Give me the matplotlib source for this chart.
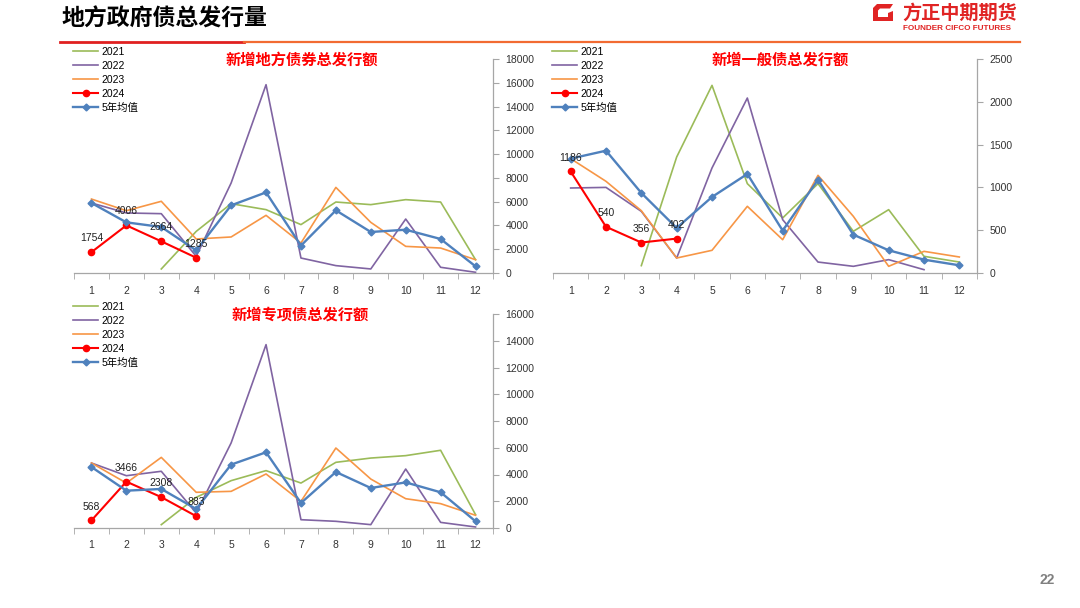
import numpy as np
import matplotlib
matplotlib.use('Agg')
import matplotlib.pyplot as plt
from matplotlib.patches import Polygon
from matplotlib.lines import Line2D

plt.rcParams['font.family'] = ['Liberation Sans', 'Noto Sans CJK SC']

nan = np.nan
months = list(range(1, 13))
series_names = ['2021', '2022', '2023', '2024', '5年均值']

# 新增地方债券总发行额
total_2021 = [nan, nan, 340, 3500, 5830, 5330, 4070, 5970, 5750, 6170, 5970, 1120]
total_2022 = [5890, 5050, 4990, 1400, 7570, 15840, 1260, 620, 340, 4540, 480, 60]
total_2023 = [6220, 5240, 6030, 2860, 3030, 4850, 2520, 7200, 4260, 2240, 2100, 1120]
total_2024 = [1754, 4006, 2664, 1285, nan, nan, nan, nan, nan, nan, nan, nan]
total_avg5 = [5890, 4260, 3870, 1900, 5690, 6780, 2300, 5270, 3450, 3640, 2860, 560]

# 新增一般债总发行额
general_2021 = [nan, nan, 86, 1355, 2192, 1044, 643, 1044, 487, 740, 195, 128]
general_2022 = [993, 1000, 720, 175, 1227, 2044, 623, 128, 78, 156, 39, nan]
general_2023 = [1336, 1071, 728, 175, 265, 779, 389, 1141, 662, 78, 253, 187]
general_2024 = [1186, 540, 356, 402, nan, nan, nan, nan, nan, nan, nan, nan]
general_avg5 = [1336, 1429, 935, 526, 888, 1157, 495, 1090, 448, 265, 156, 90]

# 新增专项债总发行额
special_2021 = [nan, nan, 250, 2290, 3540, 4290, 3360, 4910, 5230, 5410, 5810, 1000]
special_2022 = [4860, 3910, 4240, 1120, 6360, 13710, 620, 500, 250, 4410, 420, 75]
special_2023 = [4860, 3360, 5280, 2670, 2740, 4040, 1990, 5980, 3660, 2190, 1820, 950]
special_2024 = [568, 3466, 2308, 883, nan, nan, nan, nan, nan, nan, nan, nan]
special_avg5 = [4560, 2790, 2920, 1420, 4740, 5660, 1870, 4190, 2990, 3410, 2670, 500]

W, H = 1080, 608
axis_grey = '#a6a6a6'


def fx(x):
    return x / W


def fy(y):
    return 1 - y / H


def make_axes(fig, left, top, right, bottom):
    return fig.add_axes([fx(left), fy(bottom), (right - left) / W, (bottom - top) / H])


def draw_chart(fig, ax, title, data, ymax, ystep, title_xy, legend_xy):
    d2021, d2022, d2023, d2024, davg = data
    ax.plot(months, d2021, color='#9BBB59', lw=1.2, label=series_names[0])
    ax.plot(months, d2022, color='#8064A2', lw=1.2, label=series_names[1])
    ax.plot(months, d2023, color='#F79646', lw=1.2, label=series_names[2])
    ax.plot(months, d2024, color='#FF0000', lw=1.5, marker='o', ms=4.5, label=series_names[3])
    ax.plot(months, davg, color='#4F81BD', lw=1.7, marker='D', ms=3.5, label=series_names[4])

    # data labels for 2024
    for m, v in zip(months, d2024):
        if not np.isnan(v):
            ax.annotate(f'{v:.0f}', (m, v), xytext=(0, 10), textcoords='offset points',
                        ha='center', va='center', fontsize=7.5, color='#222222')

    ax.set_xlim(0.5, 12.5)
    ax.set_ylim(0, ymax)
    ax.set_xticks(months)
    ax.set_xticks(np.arange(0.5, 12.6, 1), minor=True)
    ax.tick_params(axis='x', which='major', length=0, pad=9, labelsize=7.5, colors='#333333')
    ax.tick_params(axis='x', which='minor', length=4, color=axis_grey)
    ax.yaxis.tick_right()
    ax.set_yticks(np.arange(0, ymax + 1, ystep))
    ax.tick_params(axis='y', length=4, color=axis_grey, pad=5, labelsize=7.5, labelcolor='#333333')
    for s in ['left', 'top']:
        ax.spines[s].set_visible(False)
    for s in ['right', 'bottom']:
        ax.spines[s].set_color(axis_grey)
        ax.spines[s].set_linewidth(0.9)
    ax.patch.set_alpha(0)

    fig.text(fx(title_xy[0]), fy(title_xy[1]), title, color='#FF0000', fontsize=11,
             ha='center', va='center', fontweight='bold')
    ax.legend(loc='upper left', bbox_to_anchor=(fx(legend_xy[0]), fy(legend_xy[1])),
              bbox_transform=fig.transFigure, frameon=False, fontsize=7.5,
              borderpad=0, borderaxespad=0, handlelength=2.4, handletextpad=0.3,
              labelspacing=0.38)


fig = plt.figure(figsize=(W / 100, H / 100), dpi=100)

# page header
fig.text(fx(62), fy(19), '地方政府债总发行量', fontsize=16.5, fontweight='bold', color='black',
         ha='left', va='center')
fig.add_artist(Line2D([fx(60), fx(244)], [fy(42), fy(42)], color='#E02020', lw=2))
fig.add_artist(Line2D([fx(244), fx(1020)], [fy(42), fy(42)], color='#F26B32', lw=1.6))

# logo
logo_pts = [(877, 4), (893, 4), (890, 8.5), (880, 8.5), (878, 10.5), (878, 17), (888, 17),
            (888, 13), (893, 11), (893, 21), (873, 21), (873, 8)]
fig.add_artist(Polygon([(fx(x), fy(y)) for x, y in logo_pts], closed=True,
                       facecolor='#E02424', edgecolor='none', transform=fig.transFigure))
fig.text(fx(902), fy(13.5), '方正中期期货', fontsize=13.8, fontweight='bold', color='#E02424',
         ha='left', va='center')
fig.text(fx(903), fy(28), 'FOUNDER CIFCO FUTURES', fontsize=5.9, fontweight='bold',
         color='#E02424', ha='left', va='center')

ax1 = make_axes(fig, 74, 59, 493, 273)
draw_chart(fig, ax1, '新增地方债券总发行额',
           [total_2021, total_2022, total_2023, total_2024, total_avg5],
           18000, 2000, (302, 60), (73, 47))

ax2 = make_axes(fig, 553, 59, 977, 273)
draw_chart(fig, ax2, '新增一般债总发行额',
           [general_2021, general_2022, general_2023, general_2024, general_avg5],
           2500, 500, (780, 60), (552, 47))

ax3 = make_axes(fig, 74, 314, 493, 528)
draw_chart(fig, ax3, '新增专项债总发行额',
           [special_2021, special_2022, special_2023, special_2024, special_avg5],
           16000, 2000, (300, 315), (73, 302))

# page number
fig.text(fx(1047), fy(580), '22', fontsize=10, fontweight='bold', color='#808080',
         ha='center', va='center')

fig.savefig('out.png', dpi=100)
